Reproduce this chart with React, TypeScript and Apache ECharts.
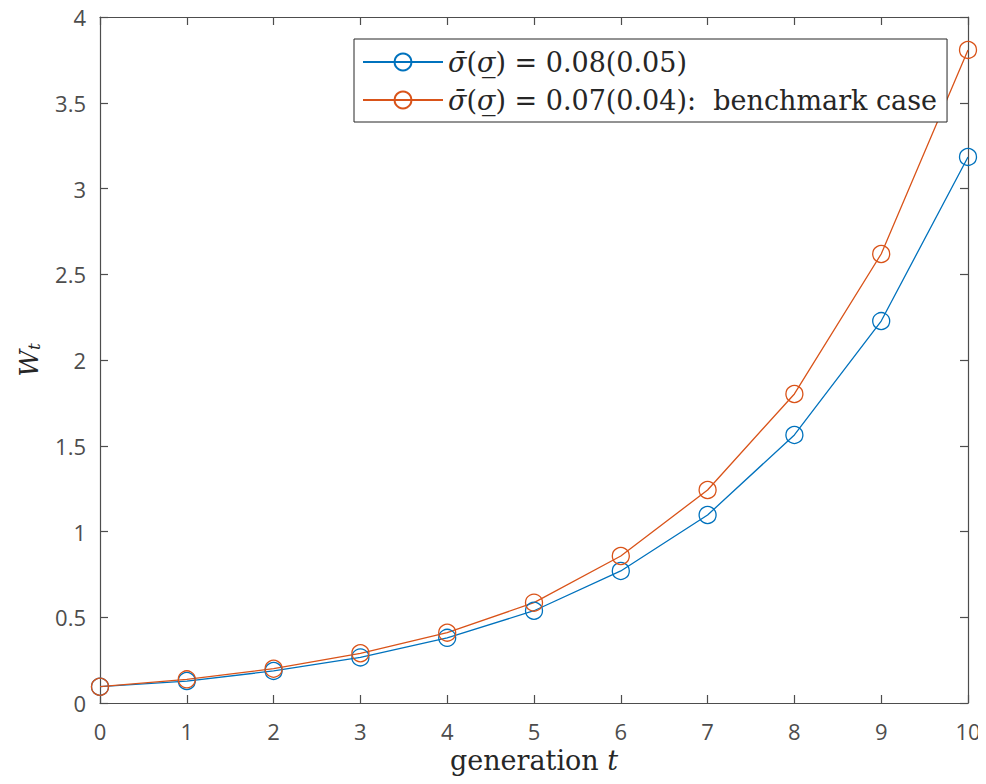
import React, { useEffect, useRef } from "react";
import * as echarts from "echarts";

const generations = [0, 1, 2, 3, 4, 5, 6, 7, 8, 9, 10];
const seriesNames = ["case08", "case07"];
const wealthA = [0.095, 0.128, 0.187, 0.266, 0.38, 0.538, 0.77, 1.096, 1.563, 2.227, 3.184];
const wealthB = [0.095, 0.138, 0.2, 0.29, 0.41, 0.585, 0.857, 1.242, 1.802, 2.618, 3.808];
const legendLabels: Record<string, string> = {
  case08: "{i|σ̄}{r|(}{i|σ̲}{r|) = 0.08(0.05)}",
  case07: "{i|σ̄}{r|(}{i|σ̲}{r|) = 0.07(0.04):  benchmark case}",
};

const serif = "'DejaVu Serif', 'Liberation Serif', serif";
const sans = "'Open Sans', 'Noto Sans', sans-serif";
const axisColor = "#4d4d4d";
const textColor = "#262626";

export default function App() {
  const ref = useRef<HTMLDivElement>(null);
  useEffect(() => {
    if (!ref.current) return;
    const chart = echarts.init(ref.current, undefined, { renderer: "svg" });
    const mkX = (pos: "bottom" | "top", labels: boolean) => ({
      type: "value" as const,
      position: pos,
      min: 0,
      max: 10,
      interval: 1,
      splitLine: { show: false },
      axisLine: { show: true, onZero: false, lineStyle: { color: axisColor, width: 1.2 } },
      axisTick: { show: true, inside: true, length: 8, lineStyle: { color: axisColor, width: 1.2 } },
      axisLabel: { show: labels, color: axisColor, fontFamily: sans, fontSize: 22, margin: 17 },
    });
    const mkY = (pos: "left" | "right", labels: boolean) => ({
      type: "value" as const,
      position: pos,
      min: 0,
      max: 4,
      interval: 0.5,
      splitLine: { show: false },
      axisLine: { show: true, onZero: false, lineStyle: { color: axisColor, width: 1.2 } },
      axisTick: { show: true, inside: true, length: 8, lineStyle: { color: axisColor, width: 1.2 } },
      axisLabel: { show: labels, color: axisColor, fontFamily: sans, fontSize: 22, margin: 14 },
    });
    const xBottom: any = mkX("bottom", true);
    xBottom.name = "generation {i|t}";
    xBottom.nameLocation = "middle";
    xBottom.nameGap = 44;
    xBottom.nameTextStyle = {
      fontFamily: serif,
      fontSize: 27,
      color: textColor,
      rich: {
        i: { fontFamily: serif, fontSize: 27, fontStyle: "italic", color: textColor },
      },
    };
    const yLeft: any = mkY("left", true);
    yLeft.name = "{w|W}{t|t}";
    yLeft.nameLocation = "middle";
    yLeft.nameGap = 58;
    yLeft.nameTextStyle = {
      color: textColor,
      rich: {
        w: { fontFamily: serif, fontSize: 26, fontStyle: "italic", color: textColor, lineHeight: 28, verticalAlign: "bottom" },
        t: { fontFamily: serif, fontSize: 17, fontStyle: "italic", color: textColor, lineHeight: 18, verticalAlign: "bottom" },
      },
    };
    const mkSeries = (name: string, data: number[], color: string) => ({
      name,
      type: "line" as const,
      data: generations.map((g, i) => [g, data[i]]),
      xAxisIndex: 0,
      yAxisIndex: 0,
      symbol: "circle",
      symbolSize: 17,
      showAllSymbol: true,
      lineStyle: { color, width: 1.3 },
      itemStyle: { color: "rgba(0,0,0,0)", borderColor: color, borderWidth: 1.3 },
    });
    chart.setOption({
      animation: false,
      backgroundColor: "#ffffff",
      grid: { left: 100, right: 18, top: 17, bottom: 81, containLabel: false },
      xAxis: [xBottom, mkX("top", false)],
      yAxis: [yLeft, mkY("right", false)],
      legend: {
        show: true,
        orient: "vertical",
        left: 354,
        top: 39,
        data: seriesNames,
        backgroundColor: "#ffffff",
        borderColor: textColor,
        borderWidth: 1,
        padding: [6, 10, 5, 8],
        itemWidth: 80,
        itemHeight: 21,
        itemGap: 4,
        formatter: (n: string) => legendLabels[n],
        textStyle: {
          fontFamily: serif,
          fontSize: 27,
          color: textColor,
          lineHeight: 34,
          rich: {
            i: { fontFamily: serif, fontSize: 27, fontStyle: "italic", color: textColor, lineHeight: 34 },
            r: { fontFamily: serif, fontSize: 27, color: textColor, lineHeight: 34 },
          },
        },
      },
      series: [
        mkSeries(seriesNames[0], wealthA, "#0072BD"),
        mkSeries(seriesNames[1], wealthB, "#D95319"),
      ],
    });
    return () => chart.dispose();
  }, []);
  return <div ref={ref} style={{ width: 986, height: 784, margin: -8 }} />;
}
